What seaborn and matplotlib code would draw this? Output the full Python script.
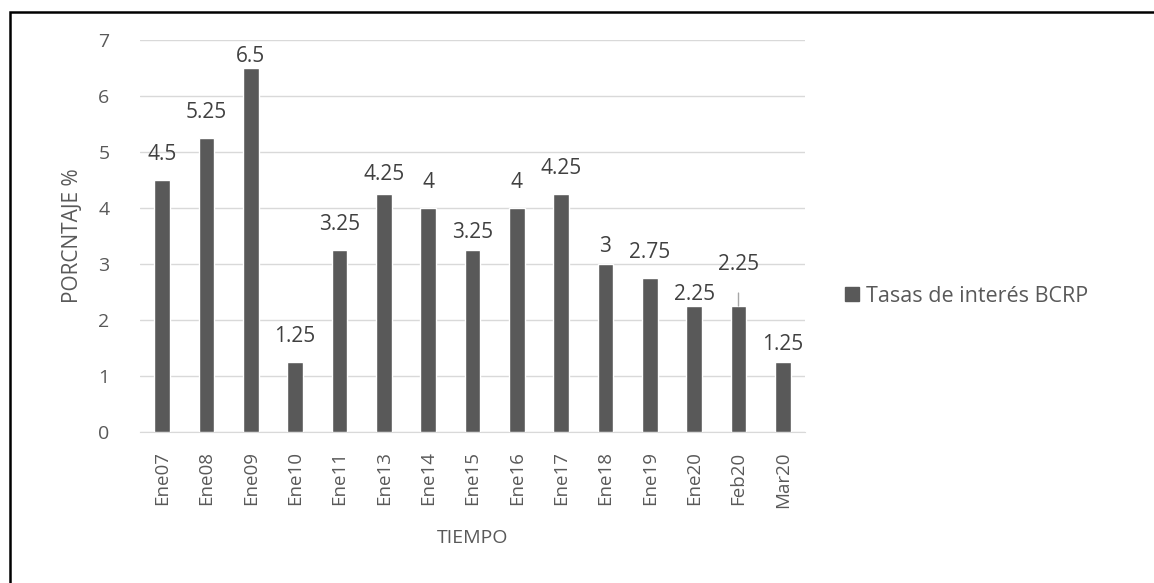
import pandas as pd
import seaborn as sns
import matplotlib.pyplot as plt
from matplotlib.patches import Patch, Rectangle

periodos = ['Ene07', 'Ene08', 'Ene09', 'Ene10', 'Ene11', 'Ene13', 'Ene14', 'Ene15',
            'Ene16', 'Ene17', 'Ene18', 'Ene19', 'Ene20', 'Feb20', 'Mar20']
tasas = [4.5, 5.25, 6.5, 1.25, 3.25, 4.25, 4, 3.25, 4, 4.25, 3, 2.75, 2.25, 2.25, 1.25]
etiquetas = ['4.5', '5.25', '6.5', '1.25', '3.25', '4.25', '4', '3.25', '4', '4.25',
             '3', '2.75', '2.25', '2.25', '1.25']
serie = 'Tasas de interés BCRP'

# label offsets above bar top, in pixels (Excel placement)
desplaz = [25, 26, 12, 26, 26, 20, 26, 18, 26, 26, 18, 26, 11, 42, 17]

gris = '#595959'
sns.set_style('white')
plt.rcParams['font.family'] = ['Open Sans', 'DejaVu Sans']

df = pd.DataFrame({'Periodo': periodos, 'Tasa': tasas})

fig = plt.figure(figsize=(11.54, 5.83), dpi=100)
ax = fig.add_axes([140 / 1154, 1 - 432 / 583, 665 / 1154, 392 / 583])

sns.barplot(data=df, x='Periodo', y='Tasa', color=gris, width=0.36,
            saturation=1, ax=ax, zorder=3)

ax.set_ylim(0, 7)
ax.set_yticks(range(0, 8))
ax.yaxis.grid(True, color='#d9d9d9', linewidth=1)
ax.set_axisbelow(True)
for s in ['top', 'right', 'left']:
    ax.spines[s].set_visible(False)
ax.spines['bottom'].set_color('#d9d9d9')
ax.tick_params(axis='both', length=0, colors=gris)
ax.tick_params(axis='y', labelsize=14, pad=22)
plt.setp(ax.get_xticklabels(), rotation=90, fontsize=13.5)
ax.tick_params(axis='x', pad=14)

ax.set_ylabel('PORCNTAJE %', fontsize=15, color=gris)
ax.set_xlabel('TIEMPO', fontsize=14, color=gris)
ax.yaxis.set_label_coords(-(140 - 83) / 665, 0.5)
ax.xaxis.set_label_coords(0.5, -(529 - 432) / 392)

for i, (v, t, d) in enumerate(zip(tasas, etiquetas, desplaz)):
    props = dict(arrowstyle='-', color='#a6a6a6', lw=1, shrinkA=11, shrinkB=0) if d > 35 else None
    ax.annotate(t, (i, v), xytext=(0, d), textcoords='offset pixels',
                ha='center', va='center', fontsize=15, color='#404040',
                arrowprops=props)

fig.legend(handles=[Patch(color=gris, label=serie)], loc='center left',
           bbox_to_anchor=(826 / 1154, 1 - 296 / 583), frameon=False,
           fontsize=15.5, labelcolor=gris, handlelength=0.65, handleheight=0.65,
           handletextpad=0.3)

fig.patches.append(Rectangle((10 / 1154, -0.2), 1.5, 1.2 - 12 / 583,
                             transform=fig.transFigure, fill=False,
                             edgecolor='black', linewidth=1.8))

fig.savefig('out.png', dpi=100)
